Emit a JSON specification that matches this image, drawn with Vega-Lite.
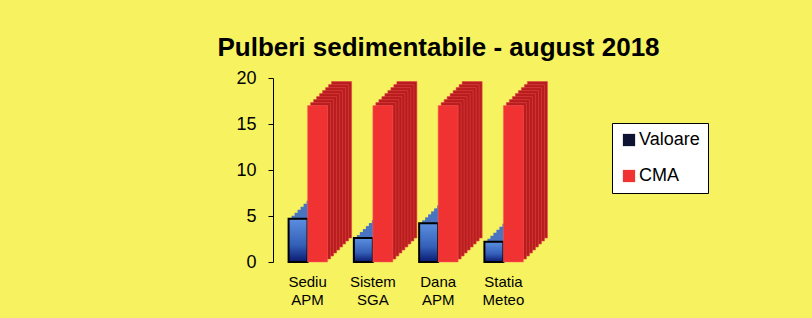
{
  "$schema": "https://vega.github.io/schema/vega-lite/v6.json",
  "autosize": "none",
  "width": 265,
  "height": 184,
  "padding": {"left": 273, "top": 78, "right": 274, "bottom": 56},
  "background": "#f7f260",
  "title": {
    "text": "Pulberi sedimentabile - august 2018",
    "font": "Liberation Sans",
    "fontSize": 26,
    "fontWeight": "bold",
    "color": "#000000",
    "frame": "group",
    "anchor": "middle",
    "dx": 33,
    "dy": 27,
    "baseline": "alphabetic",
    "offset": 14
  },
  "data": {
    "values": [
      {"Location": "Sediu APM", "Series": "Valoare", "value": 4.7},
      {"Location": "Sistem SGA", "Series": "Valoare", "value": 2.6},
      {"Location": "Dana APM", "Series": "Valoare", "value": 4.2},
      {"Location": "Statia Meteo", "Series": "Valoare", "value": 2.2},
      {"Location": "Sediu APM", "Series": "CMA", "value": 17},
      {"Location": "Sistem SGA", "Series": "CMA", "value": 17},
      {"Location": "Dana APM", "Series": "CMA", "value": 17},
      {"Location": "Statia Meteo", "Series": "CMA", "value": 17}
    ]
  },
  "encoding": {
    "x": {
      "field": "Location",
      "type": "nominal",
      "sort": ["Sediu APM", "Sistem SGA", "Dana APM", "Statia Meteo"],
      "scale": {"paddingInner": 0, "paddingOuter": 0.03},
      "axis": {
        "title": null,
        "domain": false,
        "ticks": false,
        "labelAngle": 0,
        "labelExpr": "split(datum.label, ' ')",
        "labelFont": "Liberation Sans",
        "labelFontSize": 15,
        "labelLineHeight": 18,
        "labelColor": "#000000",
        "labelPadding": 12
      }
    },
    "y": {
      "field": "value",
      "type": "quantitative",
      "scale": {"domain": [0, 20], "nice": false},
      "axis": {
        "title": null,
        "values": [0, 5, 10, 15, 20],
        "grid": false,
        "domainColor": "#000000",
        "tickColor": "#000000",
        "tickSize": 5,
        "labelFont": "Liberation Sans",
        "labelFontSize": 18,
        "labelColor": "#000000",
        "labelPadding": 12
      }
    }
  },
  "layer": [
    {"transform": [{"filter": "datum.Series == 'Valoare'"}], "mark": {"type": "bar", "width": 19, "xOffset": 14.5, "x2Offset": 14.5, "yOffset": -24, "y2Offset": -24, "fill": "#4a74c0", "stroke": "#0a0a20", "strokeWidth": 1.5}},
    {"transform": [{"filter": "datum.Series == 'Valoare'"}], "mark": {"type": "bar", "width": 19, "xOffset": 11.5, "x2Offset": 11.5, "yOffset": -21, "y2Offset": -21, "fill": "#4a74c0"}},
    {"transform": [{"filter": "datum.Series == 'Valoare'"}], "mark": {"type": "bar", "width": 19, "xOffset": 8.5, "x2Offset": 8.5, "yOffset": -18, "y2Offset": -18, "fill": "#4a74c0"}},
    {"transform": [{"filter": "datum.Series == 'Valoare'"}], "mark": {"type": "bar", "width": 19, "xOffset": 5.5, "x2Offset": 5.5, "yOffset": -15, "y2Offset": -15, "fill": "#4a74c0"}},
    {"transform": [{"filter": "datum.Series == 'Valoare'"}], "mark": {"type": "bar", "width": 19, "xOffset": 2.5, "x2Offset": 2.5, "yOffset": -12, "y2Offset": -12, "fill": "#4a74c0"}},
    {"transform": [{"filter": "datum.Series == 'Valoare'"}], "mark": {"type": "bar", "width": 19, "xOffset": -0.5, "x2Offset": -0.5, "yOffset": -9, "y2Offset": -9, "fill": "#4a74c0"}},
    {"transform": [{"filter": "datum.Series == 'Valoare'"}], "mark": {"type": "bar", "width": 19, "xOffset": -3.5, "x2Offset": -3.5, "yOffset": -6, "y2Offset": -6, "fill": "#4a74c0"}},
    {"transform": [{"filter": "datum.Series == 'Valoare'"}], "mark": {"type": "bar", "width": 19, "xOffset": -6.5, "x2Offset": -6.5, "yOffset": -3, "y2Offset": -3, "fill": "#4a74c0"}},
    {
      "transform": [{"filter": "datum.Series == 'Valoare'"}],
      "mark": {"type": "bar", "width": 19, "xOffset": -9.5, "x2Offset": -9.5},
      "encoding": {
        "color": {
          "field": "Series",
          "type": "nominal",
          "scale": {"domain": ["Valoare", "CMA"], "range": ["#0d1330", "#f03232"]},
          "legend": {
            "title": null,
            "orient": "none",
            "legendX": 339,
            "legendY": 45,
            "fillColor": "#ffffff",
            "strokeColor": "#000000",
            "padding": 8,
            "symbolType": "square",
            "symbolSize": 150,
            "symbolStrokeWidth": 0,
            "labelFont": "Liberation Sans",
            "labelFontSize": 18,
            "labelColor": "#000000",
            "labelOffset": 1,
            "rowPadding": 18
          }
        }
      }
    },
    {
      "transform": [{"filter": "datum.Series == 'Valoare'"}],
      "mark": {
        "type": "bar",
        "width": 19,
        "xOffset": -9.5,
        "x2Offset": -9.5,
        "stroke": "#000000",
        "strokeWidth": 2,
        "fill": {
          "gradient": "linear",
          "x1": 0, "y1": 0, "x2": 0, "y2": 1,
          "stops": [
            {"offset": 0, "color": "#5b8fe0"},
            {"offset": 0.6, "color": "#3460b8"},
            {"offset": 1, "color": "#0a1a70"}
          ]
        }
      }
    },
    {"transform": [{"filter": "datum.Series == 'CMA'"}], "mark": {"type": "bar", "width": 20, "xOffset": 34, "x2Offset": 34, "yOffset": -24, "y2Offset": -24, "fill": "#b81c1c", "stroke": "#e04848", "strokeWidth": 0.6}},
    {"transform": [{"filter": "datum.Series == 'CMA'"}], "mark": {"type": "bar", "width": 20, "xOffset": 31, "x2Offset": 31, "yOffset": -21, "y2Offset": -21, "fill": "#b81c1c", "stroke": "#e04848", "strokeWidth": 0.6}},
    {"transform": [{"filter": "datum.Series == 'CMA'"}], "mark": {"type": "bar", "width": 20, "xOffset": 28, "x2Offset": 28, "yOffset": -18, "y2Offset": -18, "fill": "#b81c1c", "stroke": "#e04848", "strokeWidth": 0.6}},
    {"transform": [{"filter": "datum.Series == 'CMA'"}], "mark": {"type": "bar", "width": 20, "xOffset": 25, "x2Offset": 25, "yOffset": -15, "y2Offset": -15, "fill": "#b81c1c", "stroke": "#e04848", "strokeWidth": 0.6}},
    {"transform": [{"filter": "datum.Series == 'CMA'"}], "mark": {"type": "bar", "width": 20, "xOffset": 22, "x2Offset": 22, "yOffset": -12, "y2Offset": -12, "fill": "#b81c1c", "stroke": "#e04848", "strokeWidth": 0.6}},
    {"transform": [{"filter": "datum.Series == 'CMA'"}], "mark": {"type": "bar", "width": 20, "xOffset": 19, "x2Offset": 19, "yOffset": -9, "y2Offset": -9, "fill": "#b81c1c", "stroke": "#e04848", "strokeWidth": 0.6}},
    {"transform": [{"filter": "datum.Series == 'CMA'"}], "mark": {"type": "bar", "width": 20, "xOffset": 16, "x2Offset": 16, "yOffset": -6, "y2Offset": -6, "fill": "#b81c1c", "stroke": "#e04848", "strokeWidth": 0.6}},
    {"transform": [{"filter": "datum.Series == 'CMA'"}], "mark": {"type": "bar", "width": 20, "xOffset": 13, "x2Offset": 13, "yOffset": -3, "y2Offset": -3, "fill": "#b81c1c", "stroke": "#e04848", "strokeWidth": 0.6}},
    {
      "transform": [{"filter": "datum.Series == 'CMA'"}],
      "mark": {"type": "bar", "width": 20, "xOffset": 10, "x2Offset": 10, "stroke": "#ff6060", "strokeWidth": 0.5},
      "encoding": {
        "color": {"field": "Series", "type": "nominal"}
      }
    }
  ],
  "config": {
    "view": {"stroke": null}
  }
}
